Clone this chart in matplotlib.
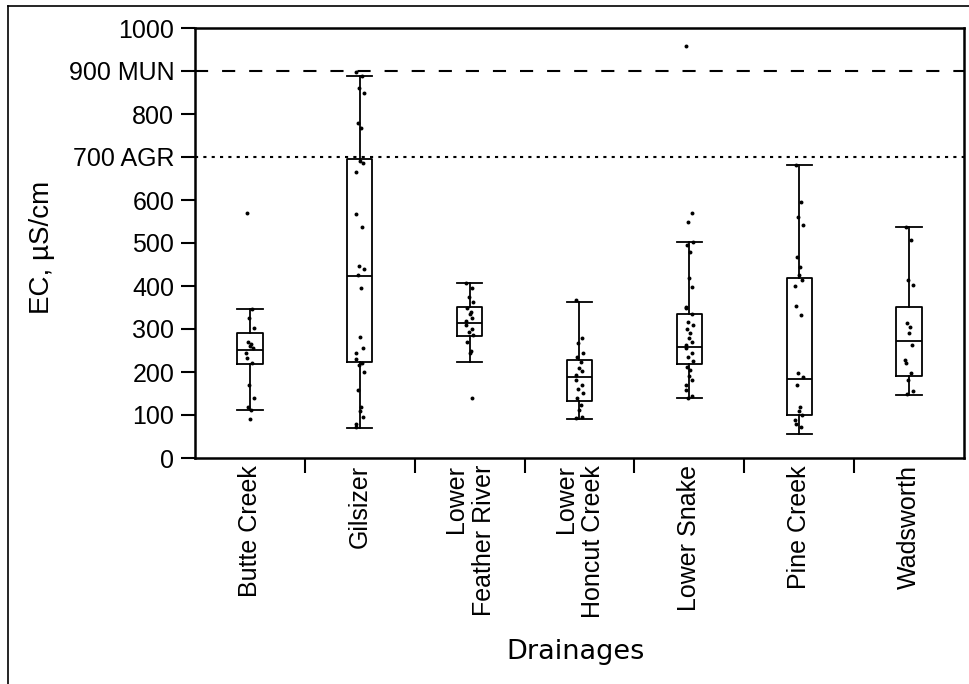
import matplotlib.pyplot as plt
from matplotlib.lines import Line2D
import numpy as np

# drainages along the x axis
drainages = ["Butte Creek", "Gilsizer", "Lower\nFeather River", "Lower\nHoncut Creek",
             "Lower Snake", "Pine Creek", "Wadsworth"]

# box statistics (uS/cm)
q1 = [219, 224, 284, 133, 218, 100, 191]
med = [251, 423, 315, 189, 257, 184, 273]
q3 = [290, 695, 352, 229, 335, 419, 352]
whislo = [112, 69, 223, 90, 140, 56, 147]
whishi = [346, 888, 408, 362, 503, 681, 538]

# individual samples
butte = [570, 346, 325, 302, 270, 265, 260, 255, 245, 232, 222, 170, 140, 119, 112, 90]
gilsizer = [898, 888, 860, 850, 780, 768, 690, 686, 665, 567, 538, 447, 440, 425, 395,
            282, 255, 245, 230, 222, 216, 200, 158, 118, 110, 95, 80, 72]
feather = [408, 395, 375, 362, 350, 340, 335, 325, 318, 310, 300, 292, 285, 270, 250, 244, 139]
honcut = [367, 279, 267, 244, 235, 224, 210, 202, 193, 181, 170, 160, 151, 140, 123, 112, 96, 92]
snake = [958, 569, 548, 503, 495, 480, 418, 398, 352, 350, 335, 317, 310, 300, 290, 280,
         270, 262, 255, 245, 235, 225, 212, 205, 190, 181, 170, 158, 145, 140]
pine = [681, 596, 560, 542, 468, 445, 425, 415, 400, 353, 333, 197, 188, 170, 119, 110,
        100, 88, 80, 73]
wadsworth = [538, 507, 414, 402, 313, 305, 290, 263, 228, 222, 197, 181, 155, 150]
samples = [butte, gilsizer, feather, honcut, snake, pine, wadsworth]

# guideline values
mun_limit = 900
agr_limit = 700

fig = plt.figure(figsize=(9.7, 6.84), dpi=100)
ax = fig.add_axes([195 / 970, 1 - 458 / 684, 769 / 970, 430 / 684])

stats = []
for i in range(len(drainages)):
    stats.append(dict(med=med[i], q1=q1[i], q3=q3[i], whislo=whislo[i], whishi=whishi[i], fliers=[]))

lw = 1.3
ax.bxp(stats, positions=range(len(drainages)), widths=0.23, capwidths=0.23, showfliers=False,
       boxprops=dict(color="black", linewidth=lw),
       whiskerprops=dict(color="black", linewidth=lw),
       capprops=dict(color="black", linewidth=lw),
       medianprops=dict(color="black", linewidth=lw))

# small horizontal spread of the dots
spread = [-0.03, 0.02, -0.01, 0.035, -0.02, 0.01, 0.0, 0.025, -0.035]
for i, vals in enumerate(samples):
    xs = [i + spread[k % len(spread)] for k in range(len(vals))]
    ax.scatter(xs, vals, s=8, color="black", zorder=3, linewidths=0)

ax.axhline(mun_limit, color="black", lw=1.5, ls=(0, (6.3, 6.7)))
ax.axhline(agr_limit, color="black", lw=1.5, ls=(0, (1.5, 2.5)))

ax.set_ylim(0, 1000)
ax.set_xlim(-0.5, len(drainages) - 0.5)

yticks = np.arange(0, 1001, 100)
ylabels = [str(v) for v in yticks]
ylabels[7] = "700 AGR"
ylabels[9] = "900 MUN"
ax.set_yticks(yticks)
ax.set_yticklabels(ylabels, fontsize=18, family="Liberation Sans")
ax.tick_params(axis="y", length=10, width=1.5, pad=5)

ax.set_xticks(np.arange(0.5, len(drainages) - 1, 1))
ax.set_xticklabels([])
ax.tick_params(axis="x", which="major", length=10.5, width=1.5)
ax.set_xticks(range(len(drainages)), minor=True)
ax.set_xticklabels(drainages, minor=True, rotation=90, fontsize=18, family="Liberation Sans",
                   ha="center", va="top", multialignment="right")
ax.tick_params(axis="x", which="minor", length=0, pad=5)

for s in ax.spines.values():
    s.set_linewidth(1.8)

ax.set_ylabel("EC, µS/cm", fontsize=20, family="Liberation Sans")
ax.yaxis.set_label_coords(-0.182, 0.49)
fig.text(576 / 970, 1 - 652 / 684, "Drainages", fontsize=19.5, family="DejaVu Sans",
         ha="center", va="center")

# scan border at the top and left
fig.add_artist(Line2D([8 / 970, 1], [1 - 6 / 684, 1 - 6 / 684], color="black", lw=1.2))
fig.add_artist(Line2D([8 / 970, 8 / 970], [0, 1 - 6 / 684], color="black", lw=1.2))

fig.savefig("out.png", dpi=100)
